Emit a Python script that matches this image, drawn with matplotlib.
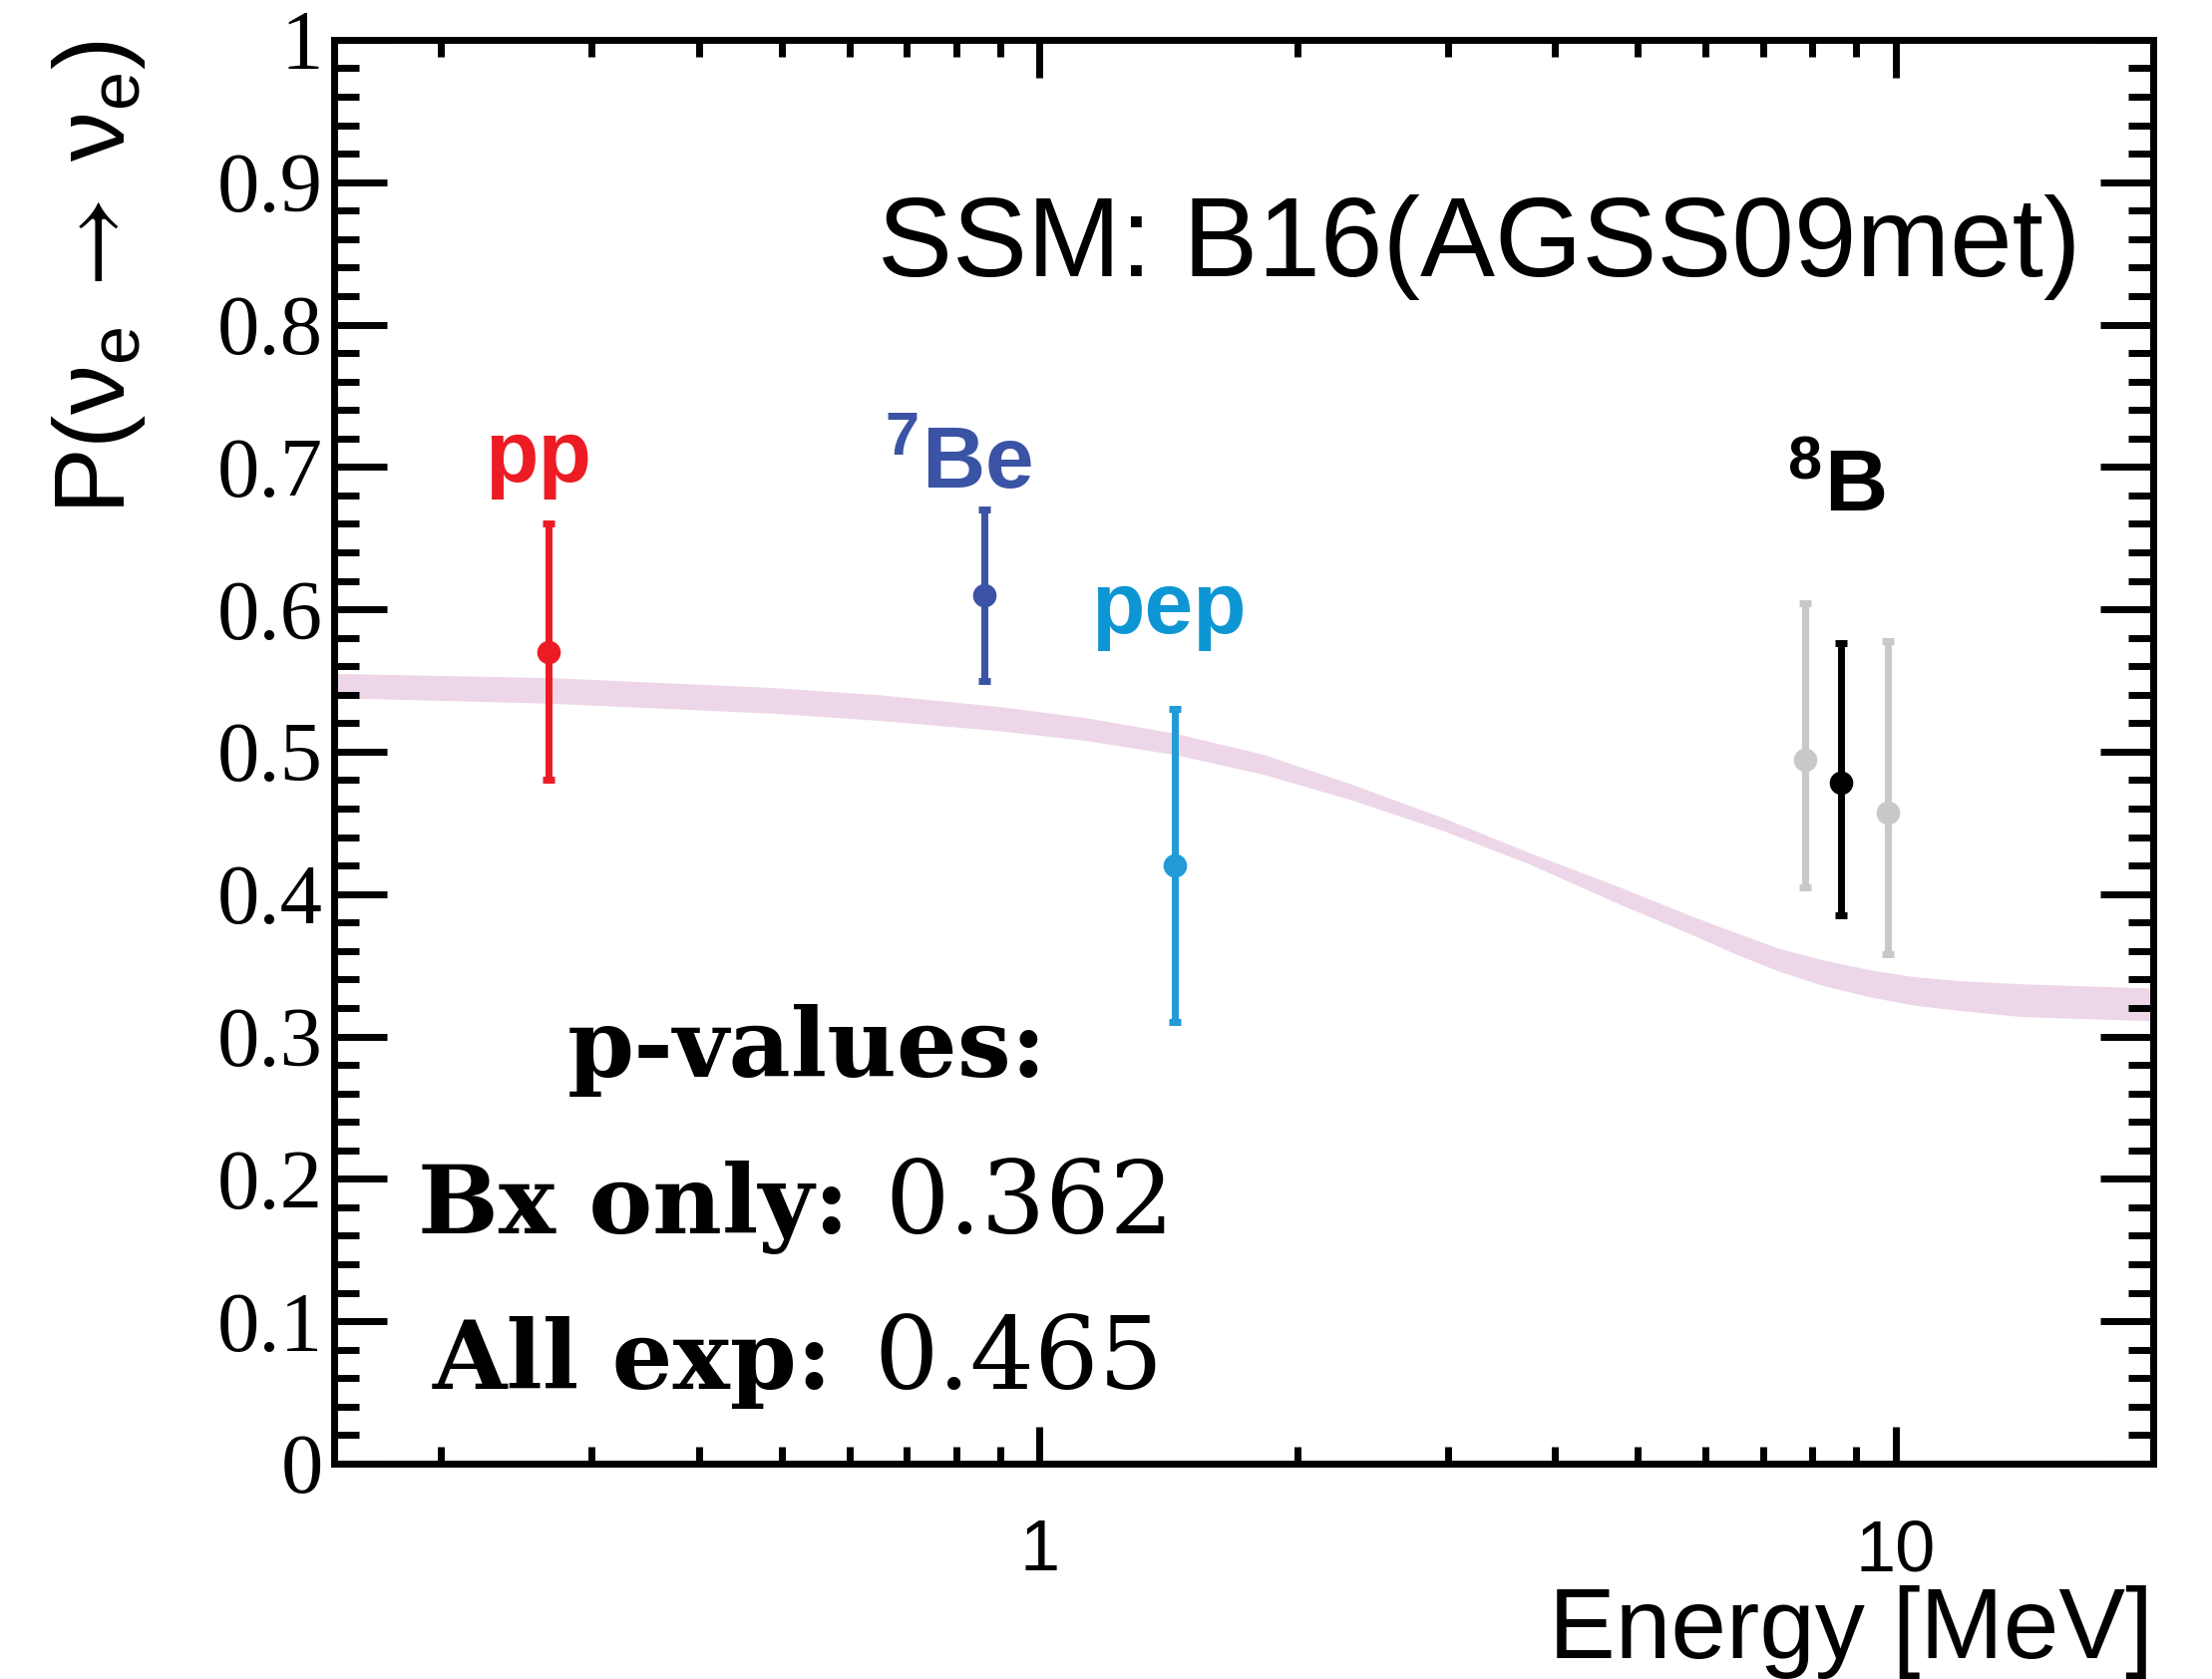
import matplotlib.pyplot as plt
from matplotlib.ticker import MultipleLocator, LogLocator, NullFormatter, FuncFormatter

# MSW-LMA survival probability band (upper / lower edge)
band_energy = [0.15, 0.27, 0.49, 0.65, 0.89, 1.13, 1.44, 1.83, 2.32, 2.95, 3.74, 4.76, 5.81,
               6.5, 7.3, 8.2, 9.3, 10.5, 12.0, 14.0, 20.0]
band_upper = [0.555, 0.552, 0.545, 0.540, 0.532, 0.524, 0.513, 0.498, 0.477, 0.454, 0.429, 0.405, 0.384,
              0.373, 0.362, 0.354, 0.347, 0.342, 0.339, 0.337, 0.334]
band_lower = [0.538, 0.534, 0.527, 0.522, 0.515, 0.508, 0.498, 0.484, 0.466, 0.445, 0.421, 0.393, 0.371,
              0.358, 0.346, 0.336, 0.328, 0.322, 0.318, 0.314, 0.311]

# Borexino measurements
src_names = ['pp', '$^{7}$Be', 'pep', '$^{8}$B']
src_energy = [0.267, 0.862, 1.44, 8.63]
src_prob = [0.570, 0.610, 0.420, 0.478]
src_err_lo = [0.090, 0.060, 0.110, 0.093]
src_err_hi = [0.090, 0.060, 0.110, 0.098]
src_colors = ['#ED1C24', '#3A53A4', '#219AD6', 'black']
label_colors = ['#ED1C24', '#3A53A4', '#0E96D4', 'black']

# 8B from other experiments
alt_energy = [7.84, 9.80]
alt_prob = [0.494, 0.457]
alt_err_lo = [0.089, 0.099]
alt_err_hi = [0.110, 0.121]

pval_names = ['Bx only:', 'All exp:']
pval_values = [0.362, 0.465]

plt.rcParams['font.family'] = ['Liberation Sans', 'DejaVu Sans']
plt.rcParams['mathtext.default'] = 'regular'
plt.rcParams['mathtext.fontset'] = 'stix'

fig = plt.figure(figsize=(22.18, 16.84), dpi=100)
ax = fig.add_axes([0.1510, 0.1283, 0.8224, 0.8480])

ax.fill_between(band_energy, band_lower, band_upper, color='#EDD6E7', lw=0, zorder=1)

ax.errorbar(alt_energy, alt_prob, yerr=[alt_err_lo, alt_err_hi], fmt='o', color='#C8C8C8',
            ms=16, elinewidth=5, capsize=4.5, capthick=5, zorder=3)
for e, p, lo, hi, c in zip(src_energy, src_prob, src_err_lo, src_err_hi, src_colors):
    ax.errorbar([e], [p], yerr=[[lo], [hi]], fmt='o', color=c,
                ms=16, elinewidth=5, capsize=4.5, capthick=5, zorder=4)

# source labels
label_x = [0.260, 0.804, 1.418, 8.53]
label_y = [0.690, 0.685, 0.583, 0.669]
for name, x, y, c in zip(src_names, label_x, label_y, label_colors):
    ax.text(x, y, name, color=c, fontsize=63, fontweight='bold', ha='center', va='baseline')

ax.text(0.960, 0.834, 'SSM: B16(AGSS09met)', transform=ax.transAxes, fontsize=81,
        ha='right', va='baseline')

# p-values block
ax.text(0.260, 0.272, 'p-values:', transform=ax.transAxes, family='DejaVu Serif',
        fontweight='bold', fontsize=69, ha='center', va='baseline')
for name, val, xs, xn, yb in zip(pval_names, pval_values, [0.2834, 0.274], [0.3026, 0.2966], [0.1618, 0.0525]):
    ax.text(xs, yb, name, transform=ax.transAxes, family='DejaVu Serif', fontweight='bold',
            fontsize=69, ha='right', va='baseline')
    ax.text(xn, yb, f'{val:.3f}', transform=ax.transAxes, family='DejaVu Serif',
            fontsize=73, ha='left', va='baseline')

ax.set_xscale('log')
ax.set_xlim(0.15, 20)
ax.set_ylim(0, 1)
ax.xaxis.set_major_locator(LogLocator(base=10, numticks=10))
ax.xaxis.set_minor_locator(LogLocator(base=10, subs=range(2, 10), numticks=20))
ax.xaxis.set_major_formatter(FuncFormatter(lambda v, _: f'{v:g}'))
ax.xaxis.set_minor_formatter(NullFormatter())
ax.yaxis.set_major_locator(MultipleLocator(0.1))
ax.yaxis.set_minor_locator(MultipleLocator(0.02))
ax.yaxis.set_major_formatter(FuncFormatter(lambda v, _: f'{v:g}'))

for s in ax.spines.values():
    s.set_linewidth(5)
    s.set_zorder(5)
ax.tick_params(which='both', direction='in', top=True, right=True, width=5, color='black')
ax.tick_params(axis='x', which='major', length=27, labelsize=52, pad=40)
ax.tick_params(axis='x', which='minor', length=12)
ax.tick_params(axis='y', which='major', length=38, labelsize=61, pad=8)
ax.tick_params(axis='y', which='minor', length=18)
for lbl in ax.get_yticklabels():
    lbl.set_fontfamily('Liberation Serif')

ax.set_xlabel('Energy [MeV]', fontsize=72, loc='right', labelpad=0)
ax.set_ylabel(r'P(ν$_{e}\;\mathrm{\rightarrow}\;$ν$_{e}$)', fontsize=72, loc='top')
ax.yaxis.set_label_coords(-0.1025, 1.0)

fig.savefig('out.png', dpi=100)
